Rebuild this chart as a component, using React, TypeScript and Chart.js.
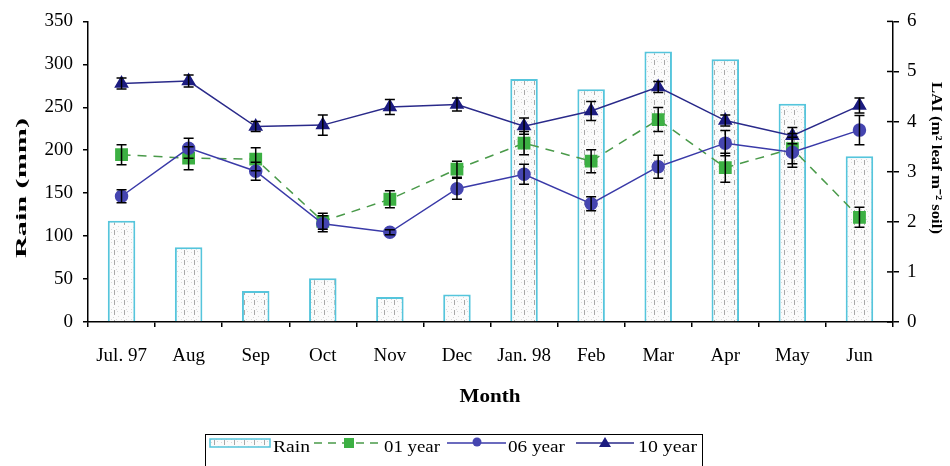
import React, { useEffect, useRef } from "react";
import { Chart, registerables } from "chart.js";

Chart.register(...registerables);

const months = ["Jul. 97", "Aug", "Sep", "Oct", "Nov", "Dec", "Jan. 98", "Feb", "Mar", "Apr", "May", "Jun"];
const rain = [118, 87, 36, 51, 29, 32, 283, 271, 315, 306, 254, 193];
const lai01 = [3.34, 3.27, 3.25, 2.01, 2.45, 3.05, 3.57, 3.21, 4.04, 3.08, 3.46, 2.09];
const err01 = [0.2, 0.23, 0.23, 0.16, 0.17, 0.16, 0.23, 0.23, 0.24, 0.29, 0.3, 0.2];
const lai06 = [2.51, 3.47, 3.01, 1.96, 1.79, 2.66, 2.95, 2.36, 3.1, 3.57, 3.39, 3.83];
const err06 = [0.13, 0.2, 0.18, 0.16, 0.05, 0.21, 0.2, 0.14, 0.23, 0.25, 0.3, 0.29];
const lai10 = [4.76, 4.81, 3.9, 3.93, 4.29, 4.34, 3.91, 4.21, 4.69, 4.02, 3.72, 4.32];
const err10 = [0.11, 0.12, 0.1, 0.2, 0.15, 0.13, 0.16, 0.19, 0.11, 0.11, 0.16, 0.15];

const rainTicks = [0, 50, 100, 150, 200, 250, 300, 350];
const laiTicks = [0, 1, 2, 3, 4, 5, 6];

const SERIF = "'Liberation Serif', 'Times New Roman', serif";
const BAR_BORDER = "#55c5dc";
const GREEN_LINE = "#4a9a4a";
const GREEN_PT = "#3cb043";
const BLUE06_LINE = "#3a3aa8";
const BLUE06_PT = "#4545b0";
const BLUE10_LINE = "#2a2a8a";
const BLUE10_PT = "#1c1c80";

function makePattern(): CanvasPattern | string {
  const c = document.createElement("canvas");
  c.width = 10;
  c.height = 10;
  const g = c.getContext("2d");
  if (!g) return "#f4f4f4";
  g.fillStyle = "#fbfbfb";
  g.fillRect(0, 0, 10, 10);
  g.fillStyle = "#d8d8d8";
  const dots = [[1, 2], [7, 1], [3, 7], [8, 6], [6, 9], [1, 9]];
  dots.forEach(([x, y]) => g.fillRect(x, y, 1, 1));
  g.fillStyle = "#a8a8a8";
  g.fillRect(4, 0, 1, 5);
  return g.createPattern(c, "repeat") || "#f4f4f4";
}

function drawStretched(ctx: CanvasRenderingContext2D, text: string, x: number, y: number, width: number, font: string, rotation = 0, align: "left" | "center" = "left") {
  ctx.save();
  ctx.font = font;
  const w = ctx.measureText(text).width;
  const sx = width / w;
  ctx.translate(x, y);
  ctx.rotate(rotation);
  ctx.scale(sx, 1);
  ctx.textAlign = align;
  ctx.textBaseline = "middle";
  ctx.fillStyle = "#000";
  ctx.fillText(text, 0, 0);
  ctx.restore();
}

export default function App() {
  const ref = useRef<HTMLCanvasElement | null>(null);

  useEffect(() => {
    if (!ref.current) return;
    const pattern = makePattern();

    const errorBars = {
      id: "errorBars",
      afterDatasetsDraw(chart: any) {
        const ctx = chart.ctx;
        const y1 = chart.scales.y1;
        const sets: [number, number[], number[]][] = [
          [1, lai01, err01],
          [2, lai06, err06],
          [3, lai10, err10],
        ];
        ctx.save();
        ctx.strokeStyle = "#000";
        ctx.lineWidth = 1.5;
        sets.forEach(([idx, vals, errs]) => {
          const meta = chart.getDatasetMeta(idx);
          meta.data.forEach((pt: any, j: number) => {
            const x = pt.x;
            const t = y1.getPixelForValue(vals[j] + errs[j]);
            const b = y1.getPixelForValue(vals[j] - errs[j]);
            ctx.beginPath();
            ctx.moveTo(x, t);
            ctx.lineTo(x, b);
            ctx.moveTo(x - 5, t);
            ctx.lineTo(x + 5, t);
            ctx.moveTo(x - 5, b);
            ctx.lineTo(x + 5, b);
            ctx.stroke();
          });
        });
        ctx.restore();
      },
    };

    const extras = {
      id: "extras",
      afterDraw(chart: any) {
        const ctx = chart.ctx as CanvasRenderingContext2D;
        const y1 = chart.scales.y1;
        const area = chart.chartArea;
        ctx.save();
        ctx.strokeStyle = "#000";
        ctx.lineWidth = 1.5;
        laiTicks.forEach((v) => {
          const y = y1.getPixelForValue(v);
          ctx.beginPath();
          ctx.moveTo(area.right - 6, y);
          ctx.lineTo(area.right, y);
          ctx.stroke();
        });
        ctx.restore();

        drawStretched(ctx, "Rain (mm)", 22, 188, 140, `bold 14px ${SERIF}`, -Math.PI / 2, "center");
        drawStretched(ctx, "LAI (m\u00b2 leaf m\u207b\u00b2 soil)", 936, 158, 152, `bold 14px ${SERIF}`, Math.PI / 2, "center");
        drawStretched(ctx, "Month", 490, 397, 61, `bold 19px ${SERIF}`, 0, "center");

        ctx.save();
        ctx.strokeStyle = "#000";
        ctx.lineWidth = 1;
        ctx.strokeRect(205.5, 434.5, 497, 40);
        ctx.fillStyle = pattern as any;
        ctx.fillRect(210, 439, 60, 8);
        ctx.strokeStyle = BAR_BORDER;
        ctx.lineWidth = 1.5;
        ctx.strokeRect(210, 439, 60, 8);
        ctx.strokeStyle = GREEN_LINE;
        ctx.lineWidth = 1.5;
        ctx.setLineDash([8, 6]);
        ctx.beginPath();
        ctx.moveTo(314, 443);
        ctx.lineTo(382, 443);
        ctx.stroke();
        ctx.setLineDash([]);
        ctx.fillStyle = GREEN_PT;
        ctx.fillRect(344, 438, 10, 10);
        ctx.strokeStyle = BLUE06_LINE;
        ctx.beginPath();
        ctx.moveTo(447, 443);
        ctx.lineTo(506, 443);
        ctx.stroke();
        ctx.fillStyle = BLUE06_PT;
        ctx.beginPath();
        ctx.arc(477, 442, 4.5, 0, Math.PI * 2);
        ctx.fill();
        ctx.strokeStyle = BLUE10_LINE;
        ctx.beginPath();
        ctx.moveTo(576, 443);
        ctx.lineTo(634, 443);
        ctx.stroke();
        ctx.fillStyle = BLUE10_PT;
        ctx.beginPath();
        ctx.moveTo(605, 437);
        ctx.lineTo(611, 447);
        ctx.lineTo(599, 447);
        ctx.closePath();
        ctx.fill();
        ctx.restore();

        const lf = `16px ${SERIF}`;
        drawStretched(ctx, "Rain", 273, 448, 37, lf);
        drawStretched(ctx, "01 year", 384, 448, 56, lf);
        drawStretched(ctx, "06 year", 508, 448, 57, lf);
        drawStretched(ctx, "10 year", 638, 448, 59, lf);
      },
    };

    const chart = new Chart(ref.current, {
      type: "bar",
      data: {
        labels: months,
        datasets: [
          {
            type: "bar",
            label: "Rain",
            data: rain,
            yAxisID: "y",
            backgroundColor: pattern as any,
            borderColor: BAR_BORDER,
            borderWidth: 2,
            barPercentage: 0.41,
            categoryPercentage: 1,
            order: 10,
          },
          {
            type: "line",
            label: "01 year",
            data: lai01,
            yAxisID: "y1",
            borderColor: GREEN_LINE,
            borderWidth: 1.5,
            borderDash: [9, 7],
            pointStyle: "rect",
            pointRadius: 8,
            pointBackgroundColor: GREEN_PT,
            pointBorderColor: GREEN_PT,
            tension: 0,
            order: 3,
          },
          {
            type: "line",
            label: "06 year",
            data: lai06,
            yAxisID: "y1",
            borderColor: BLUE06_LINE,
            borderWidth: 1.5,
            pointStyle: "circle",
            pointRadius: 6,
            pointBackgroundColor: BLUE06_PT,
            pointBorderColor: BLUE06_PT,
            tension: 0,
            order: 2,
          },
          {
            type: "line",
            label: "10 year",
            data: lai10,
            yAxisID: "y1",
            borderColor: BLUE10_LINE,
            borderWidth: 1.5,
            pointStyle: "triangle",
            pointRadius: 7,
            pointBackgroundColor: BLUE10_PT,
            pointBorderColor: BLUE10_PT,
            tension: 0,
            order: 1,
          },
        ],
      },
      options: {
        animation: false,
        responsive: false,
        maintainAspectRatio: false,
        layout: { padding: { top: 15, left: 0, right: 0, bottom: 0 } },
        plugins: {
          legend: { display: false },
          tooltip: { enabled: false },
          title: { display: false },
        },
        scales: {
          x: {
            type: "category",
            offset: true,
            grid: {
              offset: true,
              drawOnChartArea: false,
              drawTicks: true,
              tickLength: 5,
              color: "#000",
              lineWidth: 1.5,
            },
            border: { color: "#000", width: 1.5 },
            ticks: {
              color: "#000",
              font: { family: SERIF, size: 19 },
              padding: 18,
              maxRotation: 0,
              autoSkip: false,
            },
            afterFit: (s: any) => {
              s.height = 144;
            },
          },
          y: {
            position: "left",
            min: 0,
            max: 350,
            afterBuildTicks: (s: any) => {
              s.ticks = rainTicks.map((v) => ({ value: v }));
            },
            grid: {
              drawOnChartArea: false,
              drawTicks: true,
              tickLength: 5,
              color: "#000",
              lineWidth: 1.5,
            },
            border: { color: "#000", width: 1.5 },
            ticks: {
              color: "#000",
              font: { family: SERIF, size: 19 },
              padding: 10,
              autoSkip: false,
            },
            afterFit: (s: any) => {
              s.width = 88;
            },
          },
          y1: {
            position: "right",
            min: 0,
            max: 6,
            afterBuildTicks: (s: any) => {
              s.ticks = laiTicks.map((v) => ({ value: v }));
            },
            grid: {
              drawOnChartArea: false,
              drawTicks: true,
              tickLength: 6,
              color: "#000",
              lineWidth: 1.5,
            },
            border: { color: "#000", width: 1.5 },
            ticks: {
              color: "#000",
              font: { family: SERIF, size: 19 },
              padding: 8,
              autoSkip: false,
            },
            afterFit: (s: any) => {
              s.width = 57;
            },
          },
        },
      },
      plugins: [errorBars, extras],
    } as any);

    return () => chart.destroy();
  }, []);

  return (
    <div style={{ position: "fixed", left: 0, top: 0, width: 950, height: 466, background: "#fff" }}>
      <canvas ref={ref} width={950} height={466} style={{ display: "block", width: 950, height: 466 }} />
    </div>
  );
}
